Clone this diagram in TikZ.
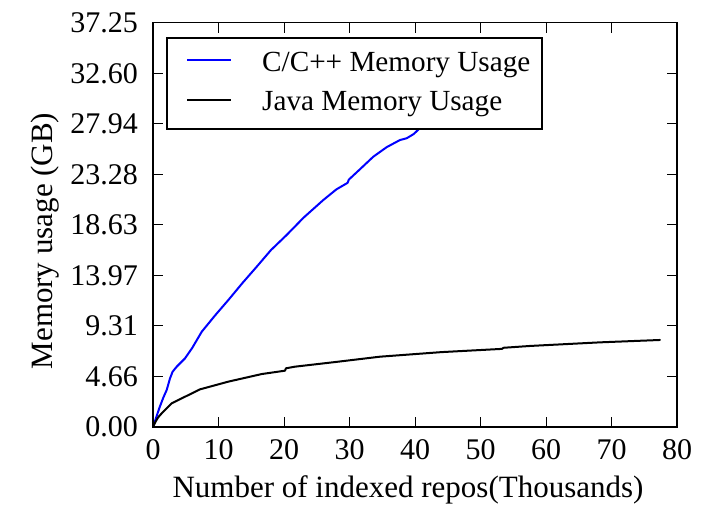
\documentclass[tikz,border=0pt]{standalone}
\usepackage{fontspec}
\setmainfont{Liberation Serif}
\begin{document}
\begin{tikzpicture}[x=1pt,y=1pt,
  lbl/.style={inner sep=0pt, font=\fontsize{30}{36}\selectfont},
  titlelbl/.style={inner sep=0pt, font=\fontsize{31}{37}\selectfont},
  leglbl/.style={inner sep=0pt, font=\fontsize{29.2}{35}\selectfont},
  axisframe/.style={draw=black, line width=1.3pt},
  tickmark/.style={draw=black, line width=1pt},
  cseries/.style={draw={rgb,255:red,0;green,0;blue,255}, line width=2pt, line join=round, line cap=round},
  jseries/.style={draw=black, line width=2pt, line join=round, line cap=round},
  legendbox/.style={draw=black, fill=white, line width=1.3pt}]
\useasboundingbox (0,0) rectangle (710,508);

% data area: x in thousands of repos, y in GB
\begin{scope}[shift={(153,81)}, x=6.55pt, y=10.85pt]
  \begin{scope}
    \clip (0,0) rectangle (80,37.25);
    \draw[cseries] plot coordinates {
      (0,0) (0.5,0.9) (1.0,1.8) (1.57,2.7) (2.09,3.41) (2.6,4.49) (3.0,5.1)
      (3.62,5.56) (4.89,6.33) (6.0,7.3) (7.44,8.78) (9.5,10.3) (11.5,11.7)
      (13.7,13.3) (15.83,14.77) (18.0,16.3) (20.41,17.70) (23.0,19.3)
      (26.0,20.92) (28.0,21.9) (29.7,22.5) (29.9,22.8) (31.5,23.7)
      (33.63,24.91) (35.7,25.8) (37.71,26.45) (38.73,26.61) (39.8,27.0)
      (40.5,27.4) (42,28.4) (45,30) (50,32.5)};
    \draw[jseries] plot coordinates {
      (0,0) (0.4,0.5) (0.8,0.9) (1.33,1.26) (2.85,2.18) (4.89,2.79)
      (7.18,3.47) (11.5,4.18) (16.6,4.88) (20.15,5.19) (20.3,5.41)
      (21.68,5.56) (28,6.0) (34.66,6.48) (44,6.9) (53.3,7.2) (53.5,7.3)
      (57.6,7.47) (68.2,7.8) (77.4,8.02)};
  \end{scope}

  % inward ticks on all four sides
  \foreach \v in {10,20,...,70} {
    \draw[tickmark] (\v,0) -- ++(0,10pt);
    \draw[tickmark] (\v,37.25) -- ++(0,-10pt);
  }
  \foreach \k in {1,...,7} {
    \draw[tickmark] (0,\k*4.65625) -- ++(10pt,0);
    \draw[tickmark] (80,\k*4.65625) -- ++(-10pt,0);
  }
  \draw[axisframe] (0,0) rectangle (80,37.25);

  % tick labels
  \foreach \v [count=\i from 0] in {0,10,20,30,40,50,60,70,80}
    \node[lbl, anchor=base] (xt\i) at (\v,0) [yshift=-33pt] {\v};
  \foreach \t [count=\i from 0] in {0.00,4.66,9.31,13.97,18.63,23.28,27.94,32.60,37.25}
    \node[lbl, anchor=east] (yt\i) at (0,\i*4.65625) [xshift=-15pt] {\t};
\end{scope}

% axis titles
\node[titlelbl, anchor=base] (xlabel) at (408,10) {Number of indexed repos(Thousands)};
\node[titlelbl, anchor=base, rotate=90] (ylabel) at (52,267) {Memory usage (GB)};

% legend
\draw[legendbox] (167,379) rectangle (542,470);
\coordinate (lc1) at (187,448);
\coordinate (lc2) at (231,448);
\coordinate (lj1) at (187,408);
\coordinate (lj2) at (231,408);
\draw[cseries, line cap=butt] (lc1) -- (lc2);
\draw[jseries, line cap=butt] (lj1) -- (lj2);
\node[leglbl, anchor=base west] (legc) at (262,436) {C/C++ Memory Usage};
\node[leglbl, anchor=base west] (legj) at (262,397) {Java Memory Usage};
\end{tikzpicture}
\end{document}
